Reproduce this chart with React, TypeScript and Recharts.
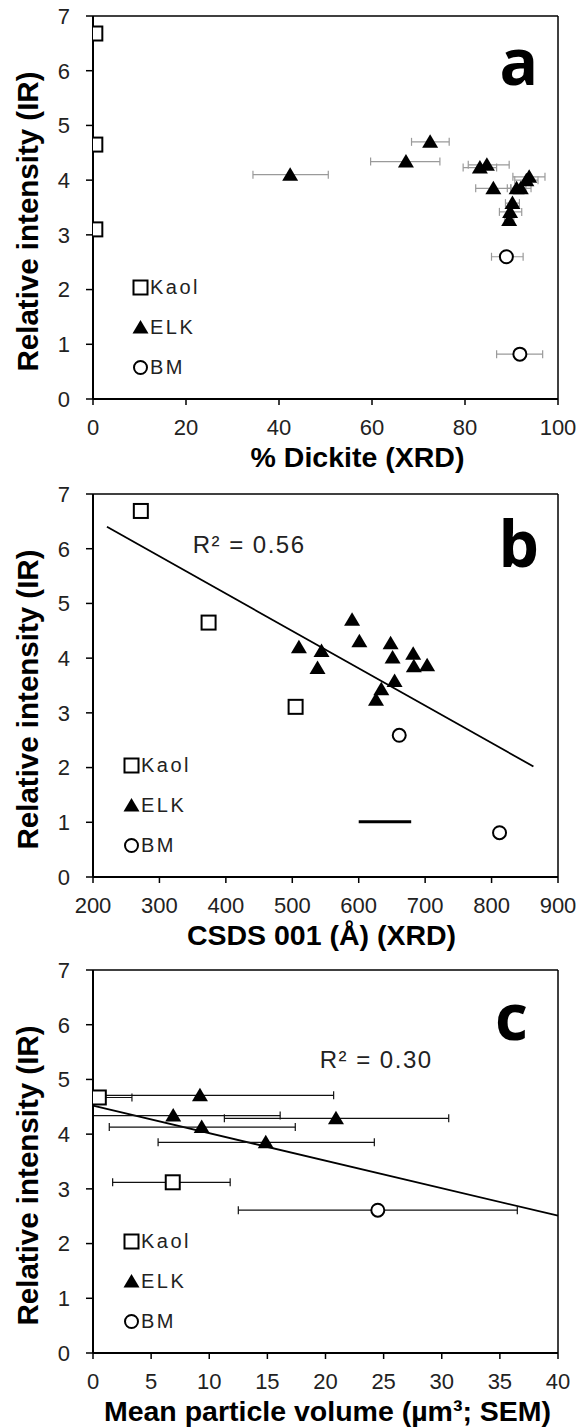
import React from "react";
import {
    ScatterChart,
    Scatter,
    XAxis,
    YAxis,
    ErrorBar,
    ReferenceLine,
    ReferenceDot,
    Legend,
} from "recharts";

const FONT = "'Liberation Sans', Arial, sans-serif";
const NARROW = "'Liberation Sans Narrow', 'Liberation Sans', Arial, sans-serif";
const BIG = "'Open Sans', 'Liberation Sans', sans-serif";

const seriesNames = ["Kaol", "ELK", "BM"];
const yTicks = [0, 1, 2, 3, 4, 5, 6, 7];

// panel a: % dickite (XRD), ex = [minus, plus]
const ticksA = [0, 20, 40, 60, 80, 100];
const kaolA = [
    { x: 0.5, y: 6.68 },
    { x: 0.5, y: 4.65 },
    { x: 0.5, y: 3.1 },
];
const elkA = [
    { x: 42.4, y: 4.1, ex: [8, 8.2] },
    { x: 67.3, y: 4.34, ex: [7.6, 7.3] },
    { x: 72.5, y: 4.7, ex: [4, 4.1] },
    { x: 83.2, y: 4.23, ex: [3.6, 3.6] },
    { x: 84.7, y: 4.28, ex: [4, 4.8] },
    { x: 86.1, y: 3.85, ex: [3.8, 3.8] },
    { x: 93.8, y: 4.06, ex: [3.5, 3.4] },
    { x: 93.2, y: 4.0, ex: [2.5, 2.5] },
    { x: 91.1, y: 3.85, ex: [2, 2] },
    { x: 92.0, y: 3.85, ex: [2.2, 2.2] },
    { x: 90.2, y: 3.58, ex: [1.5, 1.5] },
    { x: 89.7, y: 3.42, ex: [2.3, 2.5] },
    { x: 89.5, y: 3.27, ex: [1, 1] },
];
const bmA = [
    { x: 88.9, y: 2.6, ex: [3.2, 3.6] },
    { x: 91.8, y: 0.82, ex: [5, 4.9] },
];

// panel b: CSDS 001
const ticksB = [200, 300, 400, 500, 600, 700, 800, 900];
const kaolB = [
    { x: 272, y: 6.69 },
    { x: 374, y: 4.65 },
    { x: 505, y: 3.11 },
];
const elkB = [
    { x: 590, y: 4.7 },
    { x: 601, y: 4.31 },
    { x: 510, y: 4.2 },
    { x: 544, y: 4.13 },
    { x: 538, y: 3.82 },
    { x: 648, y: 4.27 },
    { x: 651, y: 4.01 },
    { x: 682, y: 4.08 },
    { x: 683, y: 3.85 },
    { x: 703, y: 3.87 },
    { x: 654, y: 3.58 },
    { x: 634, y: 3.43 },
    { x: 626, y: 3.24 },
];
const bmB = [
    { x: 661, y: 2.59 },
    { x: 812, y: 0.81 },
];
const trendB = [
    { x: 221, y: 6.4 },
    { x: 863, y: 2.02 },
];
const strayB = [
    { x: 600, y: 1.01 },
    { x: 679, y: 1.01 },
];

// panel c: mean particle volume (SEM)
const ticksC = [0, 5, 10, 15, 20, 25, 30, 35, 40];
const kaolC = [
    { x: 0.5, y: 4.67, ex: [0.5, 2.85] },
    { x: 6.86, y: 3.12, ex: [5.17, 4.94] },
];
const elkC = [
    { x: 9.2, y: 4.71, ex: [9.2, 11.5] },
    { x: 6.9, y: 4.34, ex: [6.9, 9.2] },
    { x: 20.9, y: 4.29, ex: [9.6, 9.7] },
    { x: 9.35, y: 4.13, ex: [7.95, 8.05] },
    { x: 14.86, y: 3.85, ex: [9.26, 9.34] },
];
const bmC = [{ x: 24.5, y: 2.61, ex: [12, 12] }];
const trendC = [
    { x: 0, y: 4.52 },
    { x: 40, y: 2.51 },
];

const SquareMark = (p: any) => (
    <rect x={p.cx - 7} y={p.cy - 7} width={14} height={14} fill="#fff" stroke="#000" strokeWidth={2} />
);
const TriMark = (p: any) => (
    <path d={`M${p.cx},${p.cy - 7.5}L${p.cx + 8},${p.cy + 6}L${p.cx - 8},${p.cy + 6}Z`} fill="#000" />
);
const CircleMark = (p: any) => (
    <circle cx={p.cx} cy={p.cy} r={6.5} fill="#fff" stroke="#000" strokeWidth={2} />
);
const legendIcons = [SquareMark, TriMark, CircleMark];

const KeyBox = () => (
    <div style={{ fontFamily: FONT, fontSize: 20, letterSpacing: 2.5, color: "#222" }}>
        {seriesNames.map((n, i) => {
            const Icon = legendIcons[i];
            return (
                <div key={n} style={{ display: "flex", alignItems: "center", height: 40 }}>
                    <svg width={17} height={17}>
                        <Icon cx={8.5} cy={8.5} />
                    </svg>
                    <span style={{ marginLeft: 1 }}>{n}</span>
                </div>
            );
        })}
    </div>
);

const boxOf = (lp: any) => lp.viewBox || { x: 0, y: 0, width: 0, height: 0 };

function Panel(props: any) {
    const {
        height, domain, ticks, xTitle, titleShift, letter, letterAt,
        r2, r2At, kaol, elk, bm, trend, stray, errColor, keyLeft,
    } = props;
    const axisStyle = { stroke: "#000", strokeWidth: 2 };
    const tickStyle = { fill: "#222", fontSize: 22, fontFamily: NARROW };
    return (
        <ScatterChart width={579} height={height} margin={{ top: 16, right: 21, bottom: 0, left: 0 }}>
            <XAxis
                type="number"
                dataKey="x"
                domain={domain}
                ticks={ticks}
                allowDataOverflow
                height={height - 16 - 383}
                tickSize={6}
                tickMargin={14}
                axisLine={axisStyle}
                tickLine={{ stroke: "#000", strokeWidth: 1.5 }}
                tick={tickStyle}
                label={(lp: any) => {
                    const vb = boxOf(lp);
                    return (
                        <text
                            x={vb.x + vb.width / 2 + titleShift}
                            y={vb.y + 68}
                            textAnchor="middle"
                            fontFamily={FONT}
                            fontWeight={700}
                            fontSize={28.5}
                            fill="#000"
                        >
                            {xTitle}
                        </text>
                    );
                }}
            />
            <YAxis
                type="number"
                dataKey="y"
                domain={[0, 7]}
                ticks={yTicks}
                allowDataOverflow
                width={93}
                tickSize={7}
                tickMargin={16}
                axisLine={axisStyle}
                tickLine={{ stroke: "#000", strokeWidth: 1.5 }}
                tick={tickStyle}
                label={(lp: any) => {
                    const vb = boxOf(lp);
                    const cy = vb.y + vb.height / 2 + 14;
                    return (
                        <text
                            x={27}
                            y={cy}
                            transform={`rotate(-90 27 ${cy})`}
                            textAnchor="middle"
                            dominantBaseline="central"
                            fontFamily={FONT}
                            fontWeight={700}
                            fontSize={29.5}
                            fill="#000"
                        >
                            Relative intensity (IR)
                        </text>
                    );
                }}
            />
            <ReferenceLine y={7} stroke="#000" strokeWidth={1.5} />
            <ReferenceLine x={domain[1]} stroke="#000" strokeWidth={1.5} />
            {trend && <ReferenceLine segment={trend} stroke="#000" strokeWidth={1.8} ifOverflow="visible" />}
            {stray && <ReferenceLine segment={stray} stroke="#000" strokeWidth={3} />}
            <ReferenceDot
                x={letterAt[0]}
                y={letterAt[1]}
                r={0}
                fill="none"
                stroke="none"
                label={(lp: any) => {
                    const vb = boxOf(lp);
                    return (
                        <text
                            x={vb.x + (vb.width || 0) / 2}
                            y={vb.y + (vb.height || 0) / 2}
                            textAnchor="middle"
                            fontFamily={BIG}
                            fontWeight={700}
                            fontSize={64}
                            fill="#000"
                        >
                            {letter}
                        </text>
                    );
                }}
            />
            {r2 && (
                <ReferenceDot
                    x={r2At[0]}
                    y={r2At[1]}
                    r={0}
                    fill="none"
                    stroke="none"
                    label={(lp: any) => {
                        const vb = boxOf(lp);
                        return (
                            <text
                                x={vb.x + (vb.width || 0) / 2}
                                y={vb.y + (vb.height || 0) / 2}
                                textAnchor="start"
                                fontFamily={FONT}
                                fontSize={24}
                                letterSpacing={1.5}
                                fill="#222"
                            >
                                {r2}
                            </text>
                        );
                    }}
                />
            )}
            <Scatter name="Kaol" data={kaol} shape={SquareMark} isAnimationActive={false}>
                {errColor && (
                    <ErrorBar dataKey="ex" direction="x" width={4} stroke={errColor} strokeWidth={1.2} isAnimationActive={false} />
                )}
            </Scatter>
            <Scatter name="ELK" data={elk} shape={TriMark} isAnimationActive={false}>
                {errColor && (
                    <ErrorBar dataKey="ex" direction="x" width={4} stroke={errColor} strokeWidth={1.2} isAnimationActive={false} />
                )}
            </Scatter>
            <Scatter name="BM" data={bm} shape={CircleMark} isAnimationActive={false}>
                {errColor && (
                    <ErrorBar dataKey="ex" direction="x" width={4} stroke={errColor} strokeWidth={1.2} isAnimationActive={false} />
                )}
            </Scatter>
            <Legend
                layout="vertical"
                align="center"
                verticalAlign="middle"
                content={KeyBox}
                wrapperStyle={{ left: keyLeft, top: 267, width: 100 }}
            />
        </ScatterChart>
    );
}

export default function App() {
    return (
        <div style={{ position: "absolute", left: 0, top: 0, width: 579, height: 1428, background: "#fff" }}>
            <Panel
                height={478}
                domain={[0, 100]}
                ticks={ticksA}
                xTitle="% Dickite (XRD)"
                titleShift={32}
                letter="a"
                letterAt={[91.6, 5.74]}
                kaol={kaolA.map((d) => ({ ...d, ex: [0, 0] }))}
                elk={elkA}
                bm={bmA}
                errColor="#9a9a9a"
                keyLeft={132}
            />
            <Panel
                height={476}
                domain={[200, 900]}
                ticks={ticksB}
                xTitle="CSDS 001 (Å) (XRD)"
                titleShift={-4}
                letter="b"
                letterAt={[841, 5.67]}
                r2="R² = 0.56"
                r2At={[350, 5.92]}
                kaol={kaolB}
                elk={elkB}
                bm={bmB}
                trend={trendB}
                stray={strayB}
                keyLeft={123}
            />
            <Panel
                height={474}
                domain={[0, 40]}
                ticks={ticksC}
                xTitle="Mean particle volume (µm³; SEM)"
                titleShift={2}
                letter="c"
                letterAt={[36, 5.72]}
                r2="R² = 0.30"
                r2At={[19.5, 5.21]}
                kaol={kaolC}
                elk={elkC}
                bm={bmC}
                trend={trendC}
                errColor="#111"
                keyLeft={123}
            />
        </div>
    );
}
